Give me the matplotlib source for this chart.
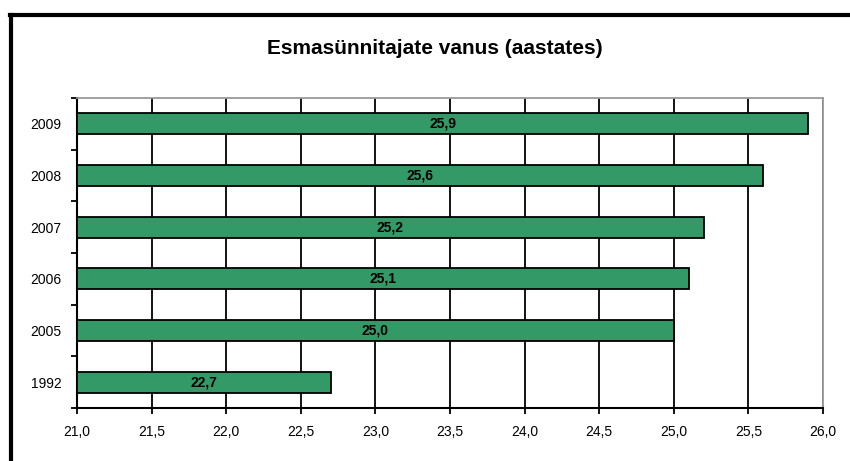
import matplotlib
matplotlib.use("Agg")
import matplotlib.pyplot as plt
from matplotlib.lines import Line2D
import numpy as np

years = ["1992", "2005", "2006", "2007", "2008", "2009"]
values = [22.7, 25.0, 25.1, 25.2, 25.6, 25.9]
xticks = [21.0, 21.5, 22.0, 22.5, 23.0, 23.5, 24.0, 24.5, 25.0, 25.5, 26.0]

plt.rcParams['font.family'] = ['Liberation Sans', 'DejaVu Sans']

fig = plt.figure(figsize=(8.5, 4.61), dpi=100)
W, H = 850, 461
ax = fig.add_axes([77 / W, 1 - 408 / H, (823 - 77) / W, (408 - 98) / H])

ypos = np.arange(len(years))
ax.barh(ypos, [v - 21.0 for v in values], left=21.0, height=0.41,
        color="#339966", edgecolor="black", linewidth=1.3, zorder=3)
for y, v in zip(ypos, values):
    ax.text(21.0 + (v - 21.0) / 2, y, f"{v:.1f}".replace(".", ","),
            ha="center", va="center", fontsize=10, fontweight="bold", zorder=4)

ax.set_xlim(21.0, 26.0)
ax.set_ylim(-0.5, len(years) - 0.5)
ax.set_xticks(xticks)
ax.set_xticklabels([f"{t:.1f}".replace(".", ",") for t in xticks], fontsize=10)
ax.set_yticks(ypos)
ax.set_yticklabels(years, fontsize=10)
ax.set_yticks(np.arange(-0.5, len(years), 1.0), minor=True)
ax.tick_params(axis="y", which="major", length=0, pad=11)
ax.tick_params(axis="y", which="minor", length=4, width=1.3, direction="out")
ax.tick_params(axis="x", length=4, width=1.3, direction="out", pad=8)
ax.xaxis.grid(True, color="black", linewidth=1.3, zorder=0)
ax.set_axisbelow(True)
for s in ["top", "right"]:
    ax.spines[s].set_color("#999999")
    ax.spines[s].set_linewidth(1.3)
for s in ["left", "bottom"]:
    ax.spines[s].set_color("black")
    ax.spines[s].set_linewidth(1.5)

fig.text(435 / W, 1 - 48 / H, "Esmasünnitajate vanus (aastates)",
         ha="center", va="center", fontsize=15, fontweight="bold")

# chart border (left and top visible)
fig.add_artist(Line2D([11 / W, 11 / W], [1 - 15 / H, 0], color="black",
                      linewidth=3, transform=fig.transFigure))
fig.add_artist(Line2D([10 / W, 1], [1 - 15 / H, 1 - 15 / H], color="black",
                      linewidth=3, transform=fig.transFigure))

fig.savefig("out.png", dpi=100)
